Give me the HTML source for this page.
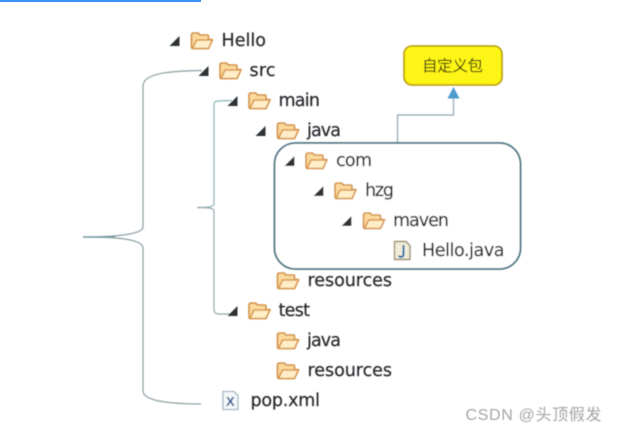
<!DOCTYPE html>
<html>
<head>
<meta charset="utf-8">
<style>
html,body{margin:0;padding:0;background:#fff;width:617px;height:432px;overflow:hidden}
svg{display:block}
.t{font-family:"DejaVu Sans","Liberation Sans",sans-serif;font-size:17.5px;fill:#26282c;stroke:#26282c;stroke-width:0.2px}
</style>
</head>
<body>
<svg width="617" height="432" viewBox="0 0 617 432" xmlns="http://www.w3.org/2000/svg">
<defs>
<filter id="b" x="-5%" y="-5%" width="110%" height="110%"><feGaussianBlur stdDeviation="0.4"/></filter>
<g id="f">
<path d="M1 3.5 Q1 1.500 3 1.500 L7.500 1.500 L9.500 3.500 L17 3.500 Q18 3.500 18 5 L18 8 L22 8 L18 17 L2 17 Q1 17 1 15 Z" fill="#fbd99c" stroke="#d2924a" stroke-width="1.600" stroke-linejoin="round"/>
<path d="M2 17 L6 8.500 L22 8.500 L18 17 Z" fill="#ffeec8" stroke="#d99a50" stroke-width="1.600" stroke-linejoin="round"/>
</g>
<path id="a" d="M-0.500 10 L9.500 10 L9.500 0 Z" fill="#2f3134"/>
</defs>
<rect x="0" y="0" width="201" height="2" fill="#3b93f5"/>
<g filter="url(#b)">
<!-- large brace -->
<path d="M83 237 C110 237 143 235 143 227 L143 86 C143 73 170 71 202 70.500" fill="none" stroke="#8c9ea3" stroke-width="1.200"/>
<path d="M83 237 C110 237 143 238 143 248 L143 391 C143 401 170 404 201 404" fill="none" stroke="#8c9ea3" stroke-width="1.200"/>
<path d="M83 237 L115 237" stroke="#6f9aa3" stroke-width="1.200"/>
<!-- small brace -->
<path d="M197 207.500 C208 207.500 214 207 214 204 L214 105 Q214 101 218 101 L232 100.500" fill="none" stroke="#8fb3b5" stroke-width="1.200"/>
<path d="M197 207.500 C208 207.500 214 208 214 211 L214 309 Q214 314 219 314 L231 314" fill="none" stroke="#98a8ad" stroke-width="1.200"/>
<!-- connector -->
<path d="M397.500 143 L397.500 115 L453.500 115 L453.500 96" fill="none" stroke="#8ea7b3" stroke-width="1.200"/>
<path d="M447.500 98.500 L453.500 87 L459.500 98.500 Z" fill="#4f9bce"/>
<!-- yellow box -->
<rect x="404" y="46" width="98" height="39" rx="8" ry="8" fill="#fdf513" stroke="#b79a10" stroke-width="1.600"/>
<text x="422" y="71" font-family="'Liberation Sans','Noto Sans CJK SC',sans-serif" font-size="15.500px" fill="#2c2c10" textLength="61">自定义包</text>
<!-- rounded frame -->
<rect x="274.500" y="143" width="246" height="126" rx="21" ry="21" fill="#fff" stroke="#4a7382" stroke-width="1.800"/>
<!-- triangles -->
<use href="#a" x="170" y="36"/>
<use href="#a" x="199" y="66"/>
<use href="#a" x="228" y="96"/>
<use href="#a" x="256" y="126"/>
<use href="#a" x="285" y="156"/>
<use href="#a" x="314" y="186"/>
<use href="#a" x="342" y="216"/>
<use href="#a" x="228" y="306"/>
<!-- folders -->
<use href="#f" x="190.500" y="31.500"/>
<use href="#f" x="219" y="61.500"/>
<use href="#f" x="248" y="91.500"/>
<use href="#f" x="276.500" y="121.500"/>
<use href="#f" x="305" y="151.500"/>
<use href="#f" x="334" y="181.500"/>
<use href="#f" x="362.500" y="211.500"/>
<use href="#f" x="276.500" y="271.500"/>
<use href="#f" x="248" y="301.500"/>
<use href="#f" x="276.500" y="331.500"/>
<use href="#f" x="276.500" y="361.500"/>
<!-- java file -->
<path d="M394.500 241.500 L406 241.500 L410 245.500 L410 259.500 L394.500 259.500 Z" fill="#f0ecd8" stroke="#9a9070" stroke-width="1.400"/>
<path d="M403.500 245 L403.500 254 Q403.500 257 400.500 257 L398.500 256" fill="none" stroke="#2b6fa8" stroke-width="2"/>
<!-- xml file -->
<path d="M223 391.500 L234 391.500 L238 395.500 L238 409.500 L223 409.500 Z" fill="#f4f7fa" stroke="#a9b6c2" stroke-width="1.300"/>
<text x="226" y="406" font-family="'Liberation Sans',sans-serif" font-size="13px" font-weight="bold" fill="#2e5f8c">X</text>
<!-- labels -->
<text class="t" x="221.500" y="46" textLength="44.500">Hello</text>
<text class="t" x="249.500" y="76" textLength="26">src</text>
<text class="t" x="278.500" y="106" textLength="41.500">main</text>
<text class="t" x="307" y="136" textLength="34">java</text>
<text class="t" x="336" y="166" textLength="36">com</text>
<text class="t" x="365" y="196" textLength="29">hzg</text>
<text class="t" x="393" y="226" textLength="56">maven</text>
<text class="t" x="422" y="256" textLength="82.500">Hello.java</text>
<text class="t" x="307.500" y="286" textLength="84.500">resources</text>
<text class="t" x="278.500" y="316" textLength="31.500">test</text>
<text class="t" x="307" y="346" textLength="34">java</text>
<text class="t" x="307.500" y="376" textLength="84.500">resources</text>
<text class="t" x="250.500" y="406" textLength="69.500">pop.xml</text>
<!-- watermark -->
<text x="465.500" y="420" font-family="'Liberation Sans','Noto Sans CJK SC',sans-serif" font-size="16px" fill="#a4a4a4" textLength="136">CSDN @头顶假发</text>
</g>
</svg>
</body>
</html>
